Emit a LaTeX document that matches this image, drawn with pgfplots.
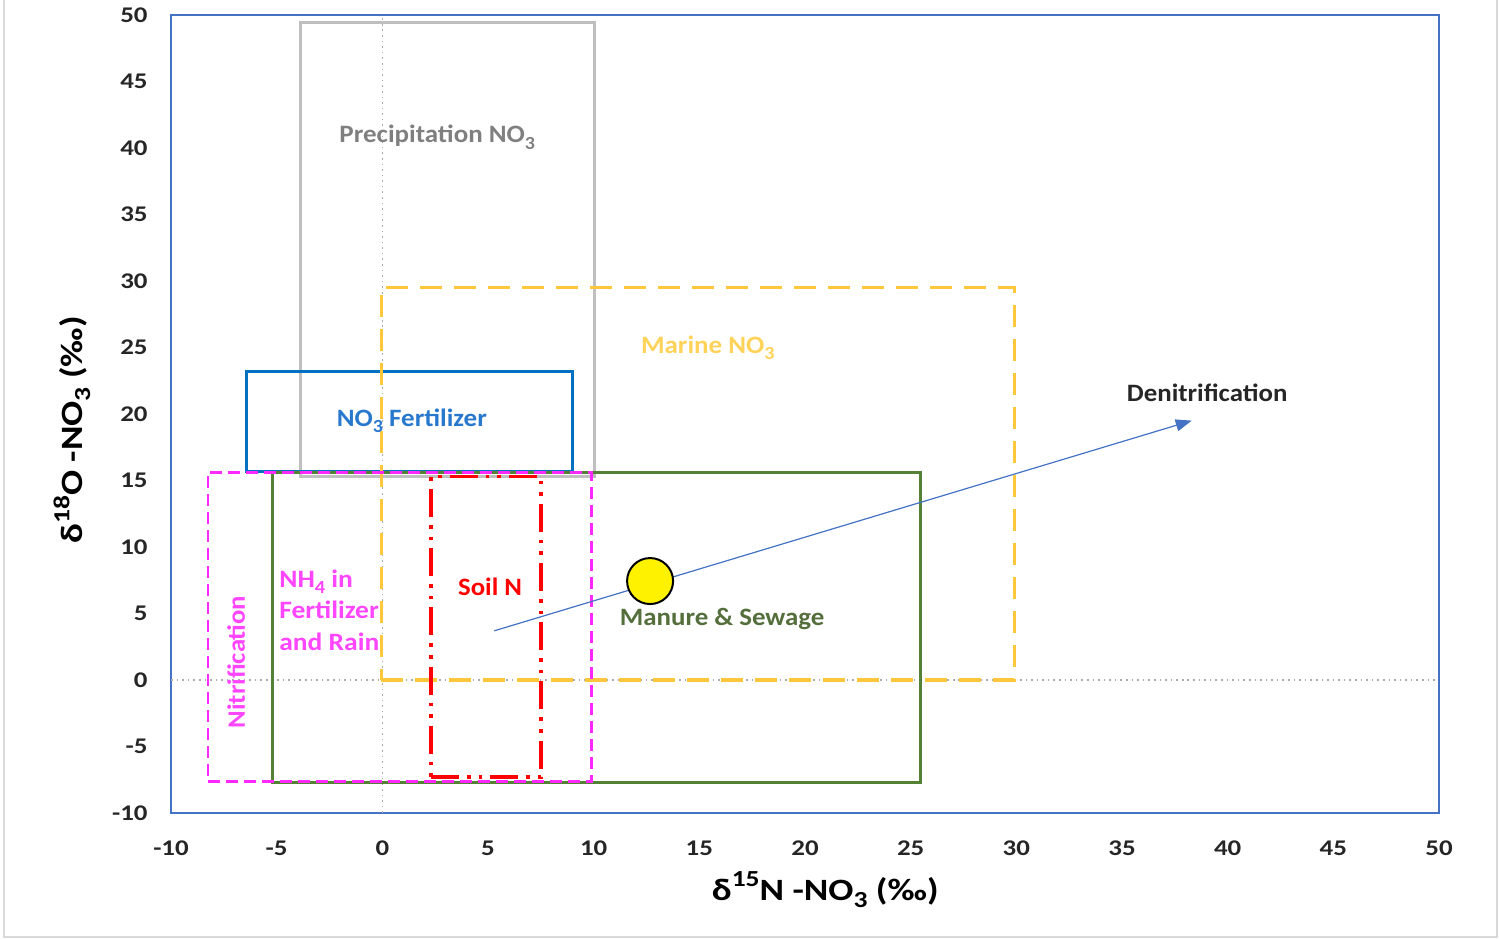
\documentclass[border=0pt]{standalone}
\usepackage{fontspec}
\setmainfont{Carlito}
\usepackage{graphicx}
\usepackage{pgfplots}
\pgfplotsset{compat=1.18}
\usetikzlibrary{arrows.meta}
\definecolor{axisblue}{RGB}{68,114,196}
\definecolor{framegray}{RGB}{217,217,217}
\definecolor{dotgray}{RGB}{170,170,170}
\definecolor{precgray}{RGB}{191,191,191}
\definecolor{prectext}{RGB}{127,127,127}
\definecolor{fertblue}{RGB}{0,112,192}
\definecolor{ferttext}{RGB}{40,120,205}
\definecolor{marine}{RGB}{255,200,60}
\definecolor{marinetext}{RGB}{255,210,90}
\definecolor{magent}{RGB}{255,40,255}
\definecolor{magtext}{RGB}{255,70,255}
\definecolor{manure}{RGB}{84,130,53}
\definecolor{manuretext}{RGB}{84,110,60}
\definecolor{tickgray}{RGB}{38,38,38}
\newcommand{\wide}[2][1.08]{\scalebox{#1}[1]{#2}}
\newcommand{\sups}[1]{\raisebox{0.42em}{\fontsize{0.74em}{1em}\selectfont #1}}
\newcommand{\subs}[1]{\raisebox{-0.25em}{\fontsize{0.74em}{1em}\selectfont #1}}
\begin{document}
\begin{tikzpicture}
\useasboundingbox (-85.5bp,-63.5bp) rectangle (665bp,406.5bp);
\draw[framegray, line width=1.2bp] (-83.5bp,406.5bp) -- (-83.5bp,-62bp) -- (663bp,-62bp) -- (663bp,406.5bp);
\begin{axis}[
  at={(0,0)}, anchor=south west,
  scale only axis, width=634bp, height=399bp,
  xmin=-10, xmax=50, ymin=-10, ymax=50,
  xtick={-10,-5,...,50}, ytick={-10,-5,...,50},
  axis line style={axisblue, line width=1bp},
  major tick length=0pt,
  /pgf/number format/assume math mode=true,
  xticklabel={\wide[1.2]{\pgfmathprintnumber{\tick}}},
  yticklabel={\wide[1.2]{\pgfmathprintnumber{\tick}}},
  tick label style={font=\fontsize{11.2bp}{13bp}\selectfont\bfseries, text=tickgray},
  xticklabel style={anchor=center, yshift=-17.5bp},
  yticklabel style={anchor=east, inner sep=0pt, xshift=-11.5bp},
  xlabel={\wide[1.2]{\bfseries δ\sups{15}N -NO\subs{3} (‰)}},
  ylabel={\wide[1.2]{\bfseries δ\sups{18}O -NO\subs{3} (‰)}},
  label style={font=\fontsize{15.5bp}{18bp}\selectfont, text=black},
  xlabel style={at={(axis description cs:0.516,0)}, anchor=center, yshift=-38.5bp},
  ylabel style={at={(axis description cs:0,0.48)}, anchor=center, yshift=49.5bp},
  clip=false,
]
% zero lines
\addplot[dotgray, dotted, line width=0.8bp] coordinates {(0,-10) (0,50)};
\addplot[dotgray, dotted, line width=0.8bp] coordinates {(-10,0) (49.8,0)};
% Precipitation
\addplot[precgray, line width=1.5bp] coordinates {(-3.85,15.3) (10.05,15.3) (10.05,49.4) (-3.85,49.4)} -- cycle;
% NO3 Fertilizer
\addplot[fertblue, line width=1.5bp] coordinates {(-6.45,15.7) (9.0,15.7) (9.0,23.2) (-6.45,23.2)} -- cycle;
% Marine
\addplot[marine, line width=1.7bp, dash pattern=on 11bp off 6bp] coordinates {(-0.05,0) (29.9,0) (29.9,29.5) (-0.05,29.5)} -- cycle;
% Manure
\addplot[manure, line width=1.5bp] coordinates {(-5.2,-7.7) (25.45,-7.7) (25.45,15.6) (-5.2,15.6)} -- cycle;
% Soil N
\addplot[red, line width=1.8bp, dash pattern=on 14bp off 4bp on 1.8bp off 4bp on 1.8bp off 4bp] coordinates {(2.3,-7.3) (7.5,-7.3) (7.5,15.3) (2.3,15.3)} -- cycle;
% Nitrification
\addplot[magent, line width=1.25bp, dash pattern=on 6bp off 3bp] coordinates {(-8.25,-7.65) (9.9,-7.65) (9.9,15.6) (-8.25,15.6)} -- cycle;
% Denitrification arrow
\addplot[axisblue, line width=0.6bp, -{Triangle[length=8bp,width=6bp]}] coordinates {(5.3,3.7) (38.3,19.5)};
% point
\addplot[only marks, mark=*, mark size=11.5bp, mark options={fill=yellow, draw=black, line width=1bp}] coordinates {(12.67,7.44)};
% labels
\node[text=prectext, font=\fontsize{12.5bp}{15bp}\selectfont\bfseries] at (axis cs:2.6,40.8) {\wide{Precipitation NO\subs{3}}};
\node[text=marinetext, font=\fontsize{12.5bp}{15bp}\selectfont\bfseries] at (axis cs:15.4,25) {\wide{Marine NO\subs{3}}};
\node[text=ferttext, font=\fontsize{12.5bp}{15bp}\selectfont\bfseries] at (axis cs:1.4,19.5) {\wide{NO\subs{3} Fertilizer}};
\node[text=magtext, font=\fontsize{12.5bp}{15.75bp}\selectfont\bfseries, align=left, anchor=west, inner sep=0pt] at (axis cs:-4.89,5.26) {\wide[1.1]{NH\subs{4} in}\\\wide[1.1]{Fertilizer}\\\wide[1.1]{and Rain}};
\node[text=magtext, font=\fontsize{12.5bp}{15bp}\selectfont\bfseries, rotate=90] at (axis cs:-6.92,1.35) {\wide[1.07]{Nitrification}};
\node[text=red, font=\fontsize{12.5bp}{15bp}\selectfont\bfseries] at (axis cs:5.1,7) {\wide[1.07]{Soil N}};
\node[text=manuretext, font=\fontsize{12.5bp}{15bp}\selectfont\bfseries] at (axis cs:16.08,4.6) {\wide[1.075]{Manure \& Sewage}};
\node[text=tickgray, font=\fontsize{12.5bp}{15bp}\selectfont\bfseries] at (axis cs:39.03,21.6) {\wide[1.075]{Denitrification}};
\end{axis}
\end{tikzpicture}
\end{document}
